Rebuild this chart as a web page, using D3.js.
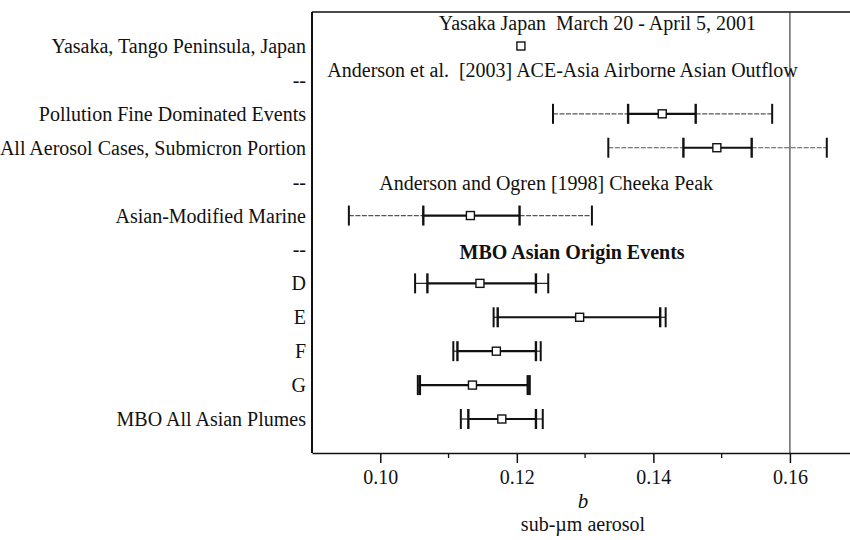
<!DOCTYPE html>
<html>
<head>
<meta charset="utf-8">
<script src="https://cdn.jsdelivr.net/npm/d3@7/dist/d3.min.js"></script>
<style>
  body { margin: 0; background: #fff; }
  text { font-family: "Liberation Serif", "Times New Roman", serif; fill: #111; white-space: pre; }
</style>
</head>
<body>
<svg id="chart" width="850" height="540"></svg>
<script>
// Row labels, top to bottom ("--" rows separate the groups)
const rowLabels = [
  "Yasaka, Tango Peninsula, Japan",
  "--",
  "Pollution Fine Dominated Events",
  "All Aerosol Cases, Submicron Portion",
  "--",
  "Asian-Modified Marine",
  "--",
  "D",
  "E",
  "F",
  "G",
  "MBO All Asian Plumes"
];

// Central estimate of b for each row (null = no mark)
const centerB  = [0.1206, null, 0.1413, 0.1493, null, 0.1132, null, 0.1146, 0.1292, 0.1170, 0.1135, 0.1178];
// Inner range (thick segment) and outer range (whiskers)
const innerLoB = [null, null, 0.1363, 0.1444, null, 0.1063, null, 0.1069, 0.1172, 0.1113, 0.1058, 0.1129];
const innerHiB = [null, null, 0.1462, 0.1544, null, 0.1204, null, 0.1228, 0.1410, 0.1228, 0.1216, 0.1228];
const outerLoB = [null, null, 0.1253, 0.1334, null, 0.0954, null, 0.1051, 0.1166, 0.1107, 0.1055, 0.1118];
const outerHiB = [null, null, 0.1574, 0.1654, null, 0.1310, null, 0.1246, 0.1418, 0.1235, 0.1219, 0.1238];

// Group headings drawn inside the plot
const groupTitles = [
  "Yasaka Japan  March 20 - April 5, 2001",
  "Anderson et al.  [2003] ACE-Asia Airborne Asian Outflow",
  "Anderson and Ogren [1998] Cheeka Peak",
  "MBO Asian Origin Events"
];

// x axis ticks
const majorTicks = [0.10, 0.12, 0.14, 0.16];
const minorTicks = [0.11, 0.13, 0.15];
const tickLabels = ["0.10", "0.12", "0.14", "0.16"];
const refLineB = 0.16;

const svg = d3.select("#chart");
const plot = { left: 312, right: 850, top: 12, bottom: 453 };
const fontPx = "20px";

const x = d3.scaleLinear().domain([0.09, 0.1688]).range([plot.left, plot.right]);
const y = d3.scalePoint().domain(d3.range(rowLabels.length)).range([46, 419]);
const yAt = r => y(0) + r * y.step();

const rows = rowLabels.map((label, i) => ({
  i, label,
  c: centerB[i], il: innerLoB[i], ih: innerHiB[i], ol: outerLoB[i], oh: outerHiB[i]
}));

// frame: left edge and top edge
svg.append("line").attr("x1", plot.left).attr("x2", plot.left)
  .attr("y1", plot.top).attr("y2", plot.bottom)
  .attr("stroke", "#111").attr("stroke-width", 2);
svg.append("line").attr("x1", plot.left).attr("x2", plot.right)
  .attr("y1", plot.top).attr("y2", plot.top)
  .attr("stroke", "#111").attr("stroke-width", 1.5);

// reference line at b = 0.16
svg.append("line")
  .attr("x1", x(refLineB)).attr("x2", x(refLineB))
  .attr("y1", plot.top).attr("y2", plot.bottom)
  .attr("stroke", "#333").attr("stroke-width", 1.1);

// x axis: labelled major ticks and short minor ticks
const axisG = svg.append("g").attr("transform", `translate(0,${plot.bottom})`);
axisG.call(d3.axisBottom(x).tickValues(majorTicks)
  .tickFormat((d, i) => tickLabels[i]).tickSize(10).tickPadding(7).tickSizeOuter(0));
axisG.append("g").selectAll("line").data(minorTicks).join("line")
  .attr("x1", d => x(d)).attr("x2", d => x(d)).attr("y1", 0).attr("y2", 5)
  .attr("stroke", "#111").attr("stroke-width", 1.3);
axisG.select(".domain").attr("stroke", "#111").attr("stroke-width", 1.6);
axisG.selectAll(".tick line").attr("stroke", "#111").attr("stroke-width", 1.5);
axisG.selectAll(".tick text")
  .style("font-family", '"Liberation Serif", "Times New Roman", serif')
  .style("font-size", fontPx).attr("fill", "#111");

// axis titles
svg.append("text").attr("x", 583).attr("y", 508)
  .attr("text-anchor", "middle").style("font-size", "21px").style("font-style", "italic")
  .text("b");
svg.append("text").attr("x", 583).attr("y", 531)
  .attr("text-anchor", "middle").style("font-size", fontPx)
  .text("sub-µm aerosol");

// row labels
svg.append("g").selectAll("text").data(rows).join("text")
  .attr("x", 306).attr("y", d => y(d.i))
  .attr("dy", "0.35em").attr("text-anchor", "end")
  .style("font-size", fontPx)
  .text(d => d.label);

// group headings
const titleAnchor = [[0.1318, -0.68], [0.1267, 0.71], [0.1243, 4.03], [0.1281, 6.08]];
svg.append("g").selectAll("text").data(groupTitles).join("text")
  .attr("x", (d, i) => x(titleAnchor[i][0]))
  .attr("y", (d, i) => yAt(titleAnchor[i][1]))
  .attr("dy", "0.35em").attr("text-anchor", "middle")
  .style("font-size", fontPx)
  .style("font-weight", (d, i) => i === 3 ? "bold" : "normal")
  .text(d => d);

// range markers
const ranged = rows.filter(d => d.ol != null);
const g = svg.append("g");
const firstGroup = d => d.i < 7;

// whiskers between outer and inner bounds
g.selectAll("line.whiskL").data(ranged).join("line").attr("class", "whiskL")
  .attr("x1", d => x(d.ol)).attr("x2", d => x(d.il))
  .attr("y1", d => y(d.i)).attr("y2", d => y(d.i))
  .attr("stroke", d => firstGroup(d) ? "#555" : "#222")
  .attr("stroke-width", 1.2)
  .attr("stroke-dasharray", d => firstGroup(d) ? "5,1.5" : null);
g.selectAll("line.whiskR").data(ranged).join("line").attr("class", "whiskR")
  .attr("x1", d => x(d.ih)).attr("x2", d => x(d.oh))
  .attr("y1", d => y(d.i)).attr("y2", d => y(d.i))
  .attr("stroke", d => firstGroup(d) ? "#555" : "#222")
  .attr("stroke-width", 1.2)
  .attr("stroke-dasharray", d => firstGroup(d) ? "5,1.5" : null);

// inner range
g.selectAll("line.inner").data(ranged).join("line").attr("class", "inner")
  .attr("x1", d => x(d.il)).attr("x2", d => x(d.ih))
  .attr("y1", d => y(d.i)).attr("y2", d => y(d.i))
  .attr("stroke", "#111").attr("stroke-width", 2.2);

// end bars
const bars = [];
ranged.forEach(d => {
  bars.push({ i: d.i, v: d.ol, w: 2 });
  bars.push({ i: d.i, v: d.il, w: 2.4 });
  bars.push({ i: d.i, v: d.ih, w: 2.4 });
  bars.push({ i: d.i, v: d.oh, w: 2 });
});
g.selectAll("line.bar").data(bars).join("line").attr("class", "bar")
  .attr("x1", d => x(d.v)).attr("x2", d => x(d.v))
  .attr("y1", d => y(d.i) - 10).attr("y2", d => y(d.i) + 10)
  .attr("stroke", "#111").attr("stroke-width", d => d.w);

// central estimates as open squares
const sq = 8;
g.selectAll("rect.center").data(rows.filter(d => d.c != null)).join("rect").attr("class", "center")
  .attr("x", d => x(d.c) - sq / 2).attr("y", d => y(d.i) - sq / 2)
  .attr("width", sq).attr("height", sq)
  .attr("fill", "#fff").attr("stroke", "#111").attr("stroke-width", 1.4);
</script>
</body>
</html>
